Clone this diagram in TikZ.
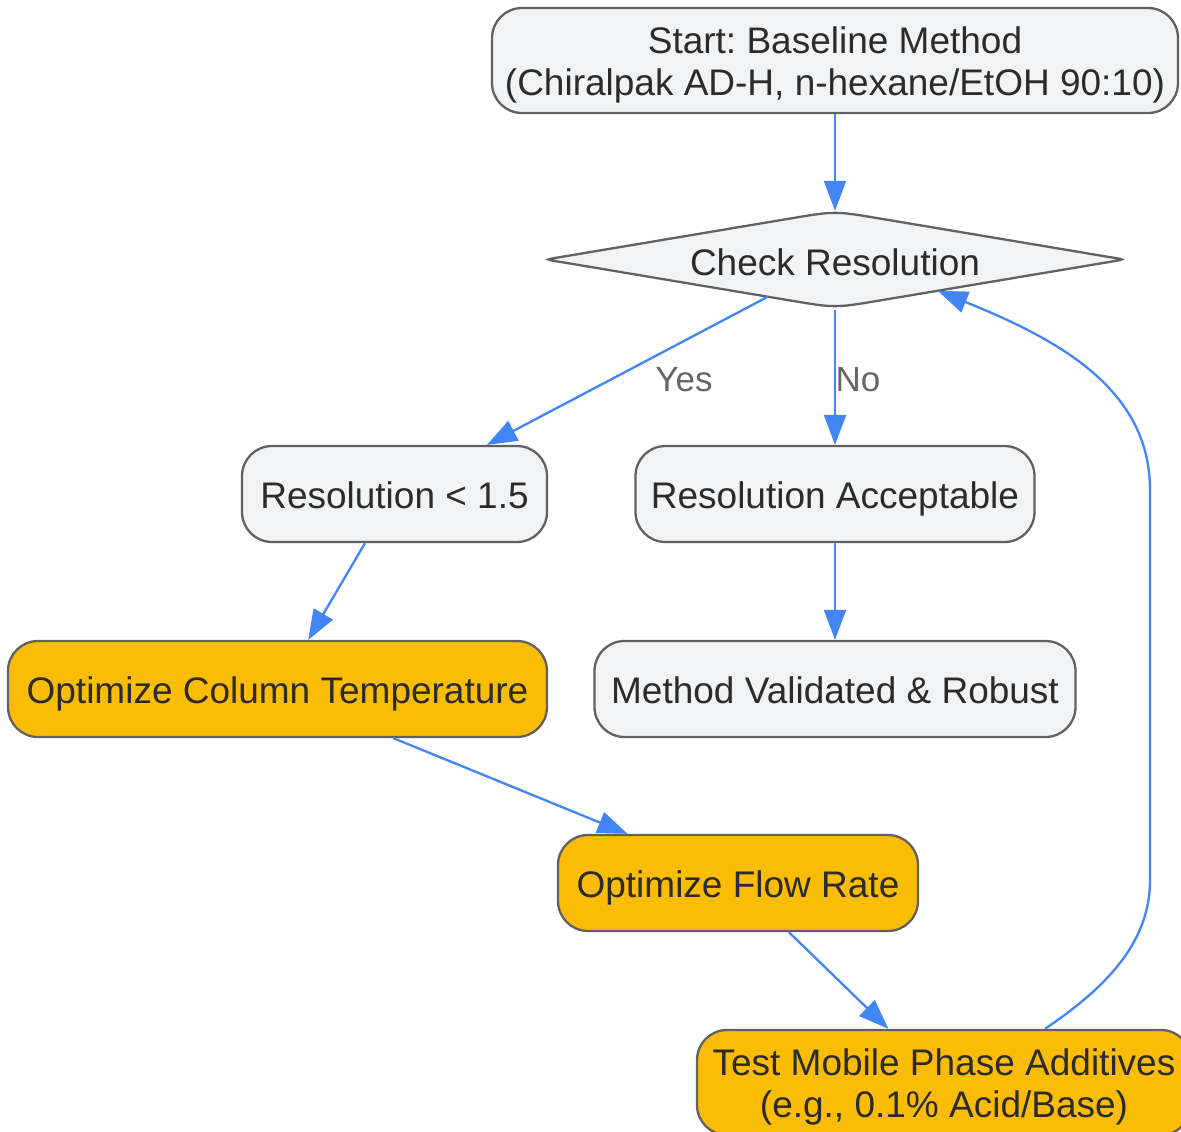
\documentclass[tikz,border=0pt]{standalone}
\usepackage{fontspec}
\setmainfont{Liberation Sans}
\frenchspacing
\usetikzlibrary{shapes.geometric,arrows.meta,calc}
\definecolor{nodefill}{HTML}{F1F3F4}
\definecolor{nodeborder}{HTML}{616161}
\definecolor{orangefill}{HTML}{FBBC05}
\definecolor{edgeblue}{HTML}{4285F4}
\definecolor{txt}{HTML}{2B2B2B}
\definecolor{lblgray}{HTML}{666666}
\newcommand\oneline[2][14.5pt]{\raisebox{-#1}[0pt][0pt]{#2}}
\newcommand\topstrut{\rule{0pt}{35.6pt}}
\newcommand\botstrut{\rule[-8pt]{0pt}{8pt}}
\begin{document}
\begin{tikzpicture}[x=1pt,y=-1pt,
  box/.style={draw=nodeborder, line width=2.3pt, rounded corners=30pt, fill=nodefill,
    text=txt, font=\fontsize{37}{42}\selectfont, align=center, inner sep=0pt},
  hot/.style={box, fill=orangefill},
  decision/.style={shape=diamond, text=txt, font=\fontsize{37}{42}\selectfont,
    inner sep=0pt, aspect=6},
  diamondline/.style={draw=nodeborder, line width=2.3pt, fill=nodefill},
  edge/.style={draw=edgeblue, line width=2.3pt, -{Triangle[length=30pt,width=22pt]}},
  lbl/.style={text=lblgray, font=\fontsize{35}{40}\selectfont, inner sep=0pt}]
\useasboundingbox (0,0) rectangle (1181,1132);
\fill[white] (0,0) rectangle (1181,1132);

% decision outline (rounded top/bottom, softly rounded tips)
\coordinate (dN) at (835,211);
\coordinate (dS) at (835,308);
\coordinate (dW) at (546,259.5);
\coordinate (dE) at (1124,259.5);
\filldraw[diamondline] ($(dW)!0.5!(dN)$) -- ($(dN)!45pt!(dW)$) .. controls (dN) .. ($(dN)!45pt!(dE)$)
  -- ($(dE)!10pt!(dN)$) .. controls (dE) .. ($(dE)!10pt!(dS)$)
  -- ($(dS)!45pt!(dE)$) .. controls (dS) .. ($(dS)!45pt!(dW)$)
  -- ($(dW)!10pt!(dS)$) .. controls (dW) .. ($(dW)!10pt!(dN)$) -- cycle;

\node[box, minimum width=686pt, minimum height=105pt] (start) at (835,60.5)
  {\topstrut Start: Baseline Method\\\botstrut(Chiralpak AD-H, n-hexane/EtOH 90:10)};
\node[decision, minimum width=578pt, minimum height=97pt] (diam) at (835,259.5)
  {\oneline[15.5pt]{Check Resolution}};
\node[box, minimum width=305pt, minimum height=96pt] (low) at (394.5,494) {\oneline{Resolution < 1.5}};
\node[box, minimum width=399pt, minimum height=96pt] (acc) at (835,494) {\oneline{Resolution Acceptable}};
\node[hot, minimum width=539pt, minimum height=96pt] (temp) at (277.5,689) {\oneline{Optimize Column Temperature}};
\node[box, minimum width=481pt, minimum height=96pt] (meth) at (835,689) {\oneline{Method Validated \& Robust}};
\node[hot, minimum width=360pt, minimum height=96pt] (flow) at (738,883) {\oneline{Optimize Flow Rate}};
\node[hot, minimum width=494pt, minimum height=105pt] (test) at (944,1082.5)
  {\topstrut Test Mobile Phase Additives\\\botstrut(e.g., 0.1\% Acid/Base)};

\node[lbl] (yes) at (684,380) {Yes};
\node[lbl] (no) at (858,380) {No};

\draw[edge] (start) -- (diam);
\draw[edge] (diam.209) -- (low.28);
\draw[edge, shorten <=2pt] (diam.south) -- (acc.north);
\draw[edge] (acc.south) -- (meth.north);
\draw[edge] (low.239.3) -- (temp.58.4);
\draw[edge] (temp.-23.5) -- (flow.156.6);
\draw[edge] (flow.-44.4) -- (test.136);
\draw[edge] (test.28) .. controls (1110,985) and (1150,940) .. (1150,880)
  -- (1150,490) .. controls (1150,390) and (1060,340) .. (diam.-17);
\end{tikzpicture}
\end{document}
